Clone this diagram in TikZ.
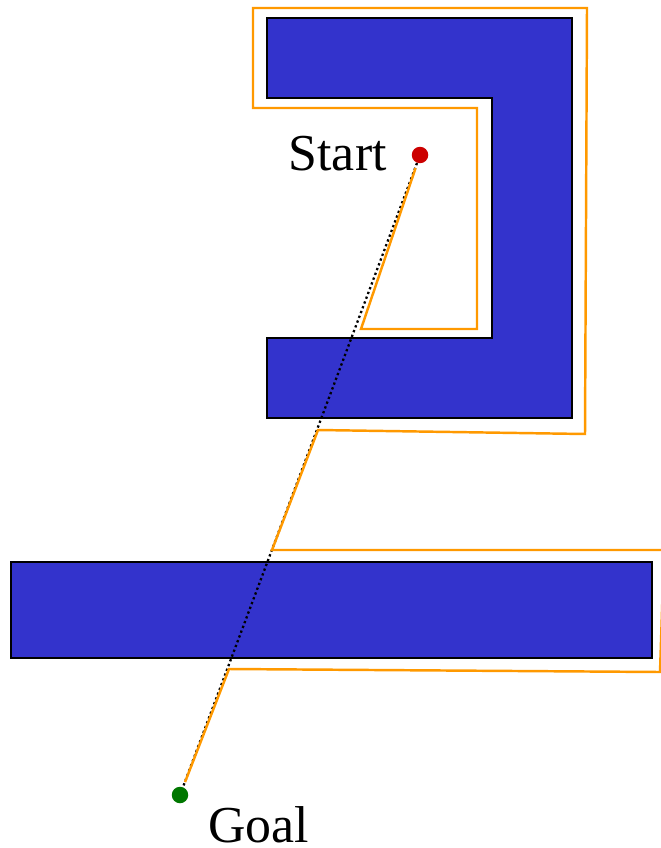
\documentclass[tikz,border=0pt]{standalone}
\usepackage{fontspec}
\setmainfont{Liberation Serif}
\usetikzlibrary{positioning}
\definecolor{ObstBlue}{HTML}{3333CC}
\definecolor{BugOrange}{HTML}{FF9900}
\definecolor{StartRed}{HTML}{CC0000}
\definecolor{GoalGreen}{HTML}{007700}
\tikzset{
  % Obstacle polygon
  obst/.style={
    draw=black, line width=1.5pt, fill=ObstBlue, line join=miter
  },
  % Start / goal marker
  mark dot/.style={
    circle, fill=#1, inner sep=0pt, minimum size=0.33cm
  },
  % Path that follows the obstacle borders
  bug/.style={
    draw=BugOrange, line width=1.4pt, line join=miter
  },
  % Straight line from start to goal
  mline/.style={
    line width=1.3pt, dash pattern=on 1.3pt off 1.6pt, black
  },
  % Marker label
  lbl/.style={font=\fontsize{29.5}{34}\selectfont, inner sep=0pt}
}
\begin{document}
\begin{tikzpicture}[x=0.02cm, y=-0.02cm]

  \useasboundingbox (0,0) rectangle (661,848);

  % Obstacles
  \path[obst] (267,18) -- (572,18) -- (572,418) -- (267,418) -- (267,338)
    -- (492,338) -- (492,98) -- (267,98) -- cycle;
  \path[obst] (11,562) rectangle (652,658);

  % Markers
  \node[mark dot=StartRed]  (start) at (420,155) {};
  \node[mark dot=GoalGreen] (goal)  at (180,795) {};
  \node[lbl, anchor=base east] (startlbl) at (387,170) {Start};
  \node[lbl, anchor=base west] (goallbl)  at (208,842) {Goal};

  % Straight line and followed path
  \draw[mline] (start) -- (goal);
  \draw[bug, shorten <=3pt, shorten >=3pt] (start) -- (361,329) -- (477,329) -- (477,108)
    -- (253,108) -- (253,8) -- (587,8) -- (585,434) -- (318,430) -- (272,550)
    -- (664,550) -- (660,672) -- (229,669) -- (goal);

\end{tikzpicture}
\end{document}
